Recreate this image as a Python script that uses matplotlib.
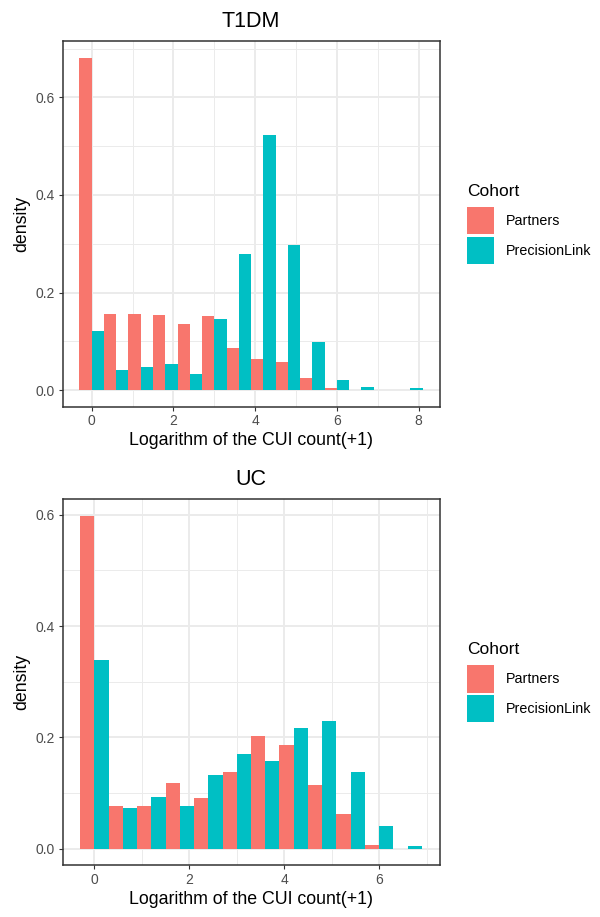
import numpy as np
import matplotlib
matplotlib.use("Agg")
import matplotlib.pyplot as plt
from matplotlib.patches import Patch
from matplotlib.ticker import MultipleLocator

plt.rcParams['font.family'] = ['Liberation Sans', 'DejaVu Sans']

cohorts = ['Partners', 'PrecisionLink']
colors = ['#F8766D', '#00BFC4']
bin_width = 0.6

# T1DM histogram (density per bin)
t1dm_bins = [0.0, 0.6, 1.2, 1.8, 2.4, 3.0, 3.6, 4.2, 4.8, 5.4, 6.0, 6.6, 7.2, 7.8]
t1dm_partners = [0.681, 0.156, 0.156, 0.154, 0.135, 0.152, 0.086, 0.064, 0.057, 0.025, 0.004, 0.0, 0.0, 0.0]
t1dm_precisionlink = [0.121, 0.041, 0.047, 0.053, 0.033, 0.146, 0.279, 0.523, 0.297, 0.098, 0.021, 0.006, 0.0, 0.004]

# UC histogram
uc_bins = [0.0, 0.6, 1.2, 1.8, 2.4, 3.0, 3.6, 4.2, 4.8, 5.4, 6.0, 6.6]
uc_partners = [0.598, 0.077, 0.077, 0.118, 0.091, 0.138, 0.202, 0.186, 0.114, 0.062, 0.007, 0.0]
uc_precisionlink = [0.339, 0.073, 0.093, 0.077, 0.132, 0.170, 0.157, 0.217, 0.229, 0.138, 0.041, 0.005]

fig = plt.figure(figsize=(6, 9.17), dpi=100)


def panel(rect, title, bins, partners, plink, xlim, ylim, xmax_tick):
    ax = fig.add_axes(rect)
    bins = np.array(bins)
    w = bin_width / 2
    ax.bar(bins - w / 2, partners, width=w, color=colors[0], zorder=3)
    ax.bar(bins + w / 2, plink, width=w, color=colors[1], zorder=3)
    ax.set_xlim(*xlim)
    ax.set_ylim(*ylim)
    ax.set_xticks(np.arange(0, xmax_tick + 1, 2))
    ax.set_yticks([0.0, 0.2, 0.4, 0.6])
    ax.set_yticklabels(['0.0', '0.2', '0.4', '0.6'])
    ax.xaxis.set_minor_locator(MultipleLocator(1))
    ax.yaxis.set_minor_locator(MultipleLocator(0.1))
    ax.grid(which='major', color='#EBEBEB', linewidth=1.4, zorder=0)
    ax.grid(which='minor', color='#EBEBEB', linewidth=0.7, zorder=0)
    ax.set_axisbelow(True)
    ax.tick_params(which='major', length=3, width=0.8, color='#333333',
                   labelsize=10, labelcolor='#4D4D4D', pad=2.5)
    ax.tick_params(which='minor', length=0)
    for s in ax.spines.values():
        s.set_color('#333333')
        s.set_linewidth(1.1)
    ax.set_title(title, fontsize=15.5, pad=10)
    ax.set_xlabel('Logarithm of the CUI count(+1)', fontsize=12.8, labelpad=3)
    ax.set_ylabel('density', fontsize=12.8, labelpad=4)
    handles = [Patch(facecolor=c, edgecolor='none') for c in colors]
    leg = ax.legend(handles, cohorts, title='Cohort', loc='center left',
                    bbox_to_anchor=(1.073, 0.5), frameon=False, fontsize=10.3,
                    title_fontsize=12.5, handlelength=1.9, handleheight=2.53,
                    handletextpad=0.8, labelspacing=0.2, borderpad=0,
                    borderaxespad=0, alignment='left')
    leg._legend_box.sep = 6
    return ax


panel([0.1045, 0.5565, 0.628, 0.3985], 'T1DM', t1dm_bins, t1dm_partners,
      t1dm_precisionlink, (-0.71, 8.51), (-0.034, 0.715), 8)
panel([0.1045, 0.0564, 0.628, 0.3991], 'UC', uc_bins, uc_partners,
      uc_precisionlink, (-0.666, 7.27), (-0.030, 0.628), 6)

fig.savefig('out.png', dpi=100)
